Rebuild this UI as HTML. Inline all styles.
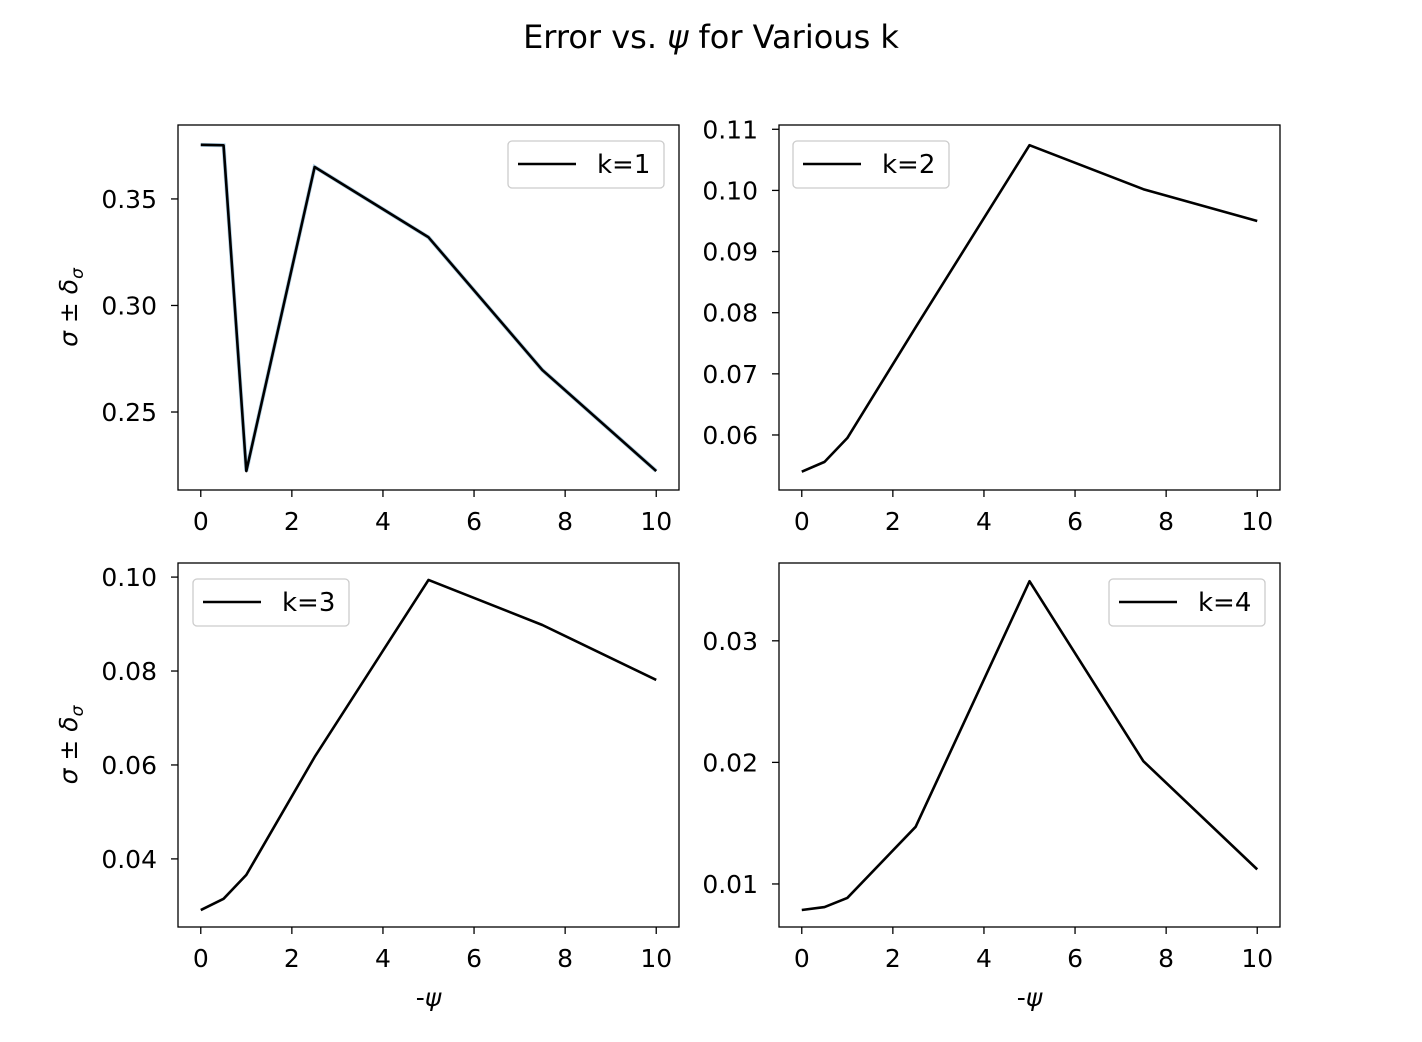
<!DOCTYPE html>
<html><head><meta charset="utf-8"><style>
body{margin:0;background:#fff;}
svg{display:block;font-family:"DejaVu Sans","Liberation Sans",sans-serif;}
</style></head><body>
<svg id="fig" width="1422" height="1042">
<text x="711" y="48" text-anchor="middle" style="font-size:32px">Error vs. <tspan font-style="italic">ψ</tspan> for Various k</text>
</svg>
<script>
const xValues = [0, 0.5, 1, 2.5, 5, 7.5, 10];
const seriesK1 = [0.3754, 0.3752, 0.2223, 0.365, 0.332, 0.2697, 0.2223];
const seriesK2 = [0.054, 0.0556, 0.0595, 0.0776, 0.1074, 0.1002, 0.095];
const seriesK3 = [0.0291, 0.0315, 0.0366, 0.0617, 0.0994, 0.0898, 0.0781];
const seriesK4 = [0.00786, 0.0081, 0.00885, 0.0147, 0.0349, 0.0201, 0.0112];
const xTicks = [0, 2, 4, 6, 8, 10];
const yTicks1 = [0.25, 0.30, 0.35];
const yTicks2 = [0.06, 0.07, 0.08, 0.09, 0.10, 0.11];
const yTicks3 = [0.04, 0.06, 0.08, 0.10];
const yTicks4 = [0.01, 0.02, 0.03];
const labels = ["k=1", "k=2", "k=3", "k=4"];

const NS = "http://www.w3.org/2000/svg";
const svg = document.getElementById('fig');
function mk(tag, attrs, parent){const e=document.createElementNS(NS,tag);for(const k in attrs)e.setAttribute(k,attrs[k]);(parent||svg).appendChild(e);return e;}

const panels = [
 {x0:178,x1:679,y0:125,y1:490,ymin:0.2134,ymax:0.3847,data:seriesK1,ticks:yTicks1,leg:[508,141],ylab:true,xlab:false,band:true},
 {x0:779,x1:1280,y0:125,y1:490,ymin:0.051,ymax:0.1107,data:seriesK2,ticks:yTicks2,leg:[793,141],ylab:false,xlab:false},
 {x0:178,x1:679,y0:563,y1:927,ymin:0.0255,ymax:0.103,data:seriesK3,ticks:yTicks3,leg:[193,579],ylab:true,xlab:true},
 {x0:779,x1:1280,y0:563,y1:927,ymin:0.00646,ymax:0.0364,data:seriesK4,ticks:yTicks4,leg:[1109,579],ylab:false,xlab:true}
];
panels.forEach((p,i)=>{
  const g = mk('g',{});
  
  
  const sx = v => p.x0 + (v+0.5)/11*(p.x1-p.x0);
  const sy = v => p.y1 - (v-p.ymin)/(p.ymax-p.ymin)*(p.y1-p.y0);
  xTicks.forEach(t=>{
    const X=sx(t);
    mk('line',{x1:X,x2:X,y1:p.y1,y2:p.y1+7,stroke:'#000','stroke-width':1.3},g);
    const tx=mk('text',{x:X,y:p.y1+40,'text-anchor':'middle',style:'font-size:25px'},g);
    tx.textContent=t;
    
    
  });
  p.ticks.forEach(t=>{
    const Y=sy(t);
    mk('line',{x1:p.x0-7,x2:p.x0,y1:Y,y2:Y,stroke:'#000','stroke-width':1.3},g);
    const tx=mk('text',{x:p.x0-21,y:Y+9,'text-anchor':'end',style:'font-size:25px'},g);
    tx.textContent=t.toFixed(2);
    
    
  });
  const pts = xValues.map((x,j)=>sx(x)+','+sy(p.data[j])).join(' ');
  if(p.band){
    const b=mk('polyline',{points:pts,fill:'none',stroke:'#1f77b4','stroke-opacity':0.35,'stroke-width':4},g);
    
    
  }
  const line=mk('polyline',{points:pts,fill:'none',stroke:'#000','stroke-width':2.6,'stroke-linejoin':'round'},g);
  
  
  mk('rect',{x:p.x0,y:p.y0,width:p.x1-p.x0,height:p.y1-p.y0,fill:'none',stroke:'#000','stroke-width':1.3},g);
  const lg=mk('g',{},g);
  
  
  const [lx,ly]=p.leg;
  mk('rect',{x:lx,y:ly,width:156,height:47,rx:4,fill:'#fff','fill-opacity':0.8,stroke:'#ccc','stroke-width':1.3},lg);
  mk('line',{x1:lx+10,x2:lx+68,y1:ly+23,y2:ly+23,stroke:'#000','stroke-width':2.6},lg);
  const lt=mk('text',{x:lx+89,y:ly+32,style:'font-size:26px'},lg);
  lt.textContent=labels[i];
  if(p.ylab){
    const cy=(p.y0+p.y1)/2;
    const yl=mk('text',{x:0,y:0,'text-anchor':'middle',style:'font-size:25px',transform:`translate(77,${cy}) rotate(-90)`},g);
    yl.innerHTML='<tspan font-style="italic">σ</tspan> ± <tspan font-style="italic">δ</tspan><tspan font-style="italic" style="font-size:17px" dy="6">σ</tspan>';
    
    
  }
  if(p.xlab){
    const xl=mk('text',{x:(p.x0+p.x1)/2,y:1006,'text-anchor':'middle',style:'font-size:25px'},g);
    xl.innerHTML='-<tspan font-style="italic">ψ</tspan>';
    
    
  }
});
</script>
</body></html>
